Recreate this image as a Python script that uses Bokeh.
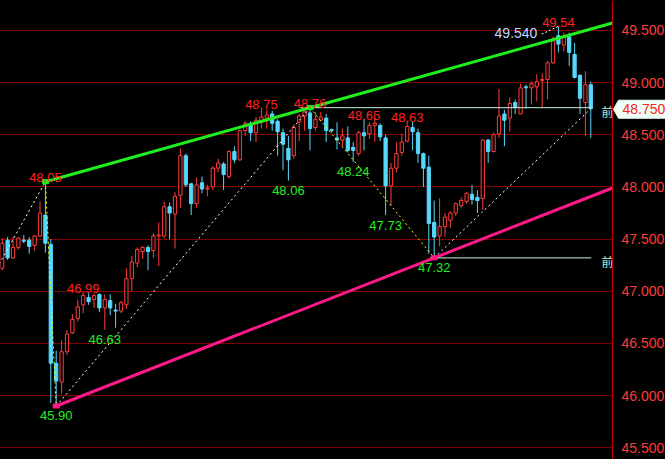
from bokeh.plotting import figure
from bokeh.models import Range1d, FixedTicker, NumeralTickFormatter, ColumnDataSource
from bokeh.core.properties import value
from bokeh.embed import file_html
from bokeh.resources import INLINE

# ---- candle data (OHLC) ----
opens = [47.22, 47.49, 47.32, 47.42, 47.49, 47.49, 47.44, 47.53, 47.73, 47.45,
         46.31, 46.13, 46.42, 46.60, 46.74, 46.87, 46.94, 46.92, 46.97, 46.84,
         46.91, 46.82, 46.81, 46.87, 47.12, 47.27, 47.38, 47.42, 47.39, 47.53,
         47.53, 47.81, 47.74, 47.92, 48.30, 48.03, 47.84, 48.04, 47.98, 48.00,
         48.18, 48.22, 48.10, 48.34, 48.26, 48.54, 48.61, 48.52, 48.62, 48.66,
         48.70, 48.63, 48.52, 48.37, 48.30, 48.62, 48.68, 48.71, 48.57, 48.64,
         48.66, 48.55, 48.47, 48.45, 48.47, 48.38, 48.32, 48.52, 48.51, 48.59,
         48.59, 48.47, 48.01, 48.18, 48.33, 48.44, 48.57, 48.52, 48.32, 48.19,
         47.66, 47.53, 47.62, 47.68, 47.75, 47.82, 47.86, 47.93, 47.90, 47.89,
         48.45, 48.34, 48.51, 48.70, 48.66, 48.81, 48.70, 48.96, 48.95, 48.96,
         49.02, 49.03, 49.19, 49.45, 49.36, 49.44, 49.27, 49.07, 48.81, 48.98]
highs = [47.51, 47.52, 47.52, 47.52, 47.54, 47.52, 47.54, 47.86, 48.05, 47.50,
         46.43, 46.53, 46.63, 46.78, 46.92, 46.99, 46.98, 46.98, 46.98, 46.97,
         46.97, 46.88, 46.91, 47.22, 47.34, 47.42, 47.43, 47.44, 47.56, 47.66,
         47.86, 47.85, 47.95, 48.37, 48.32, 48.04, 48.09, 48.10, 48.02, 48.20,
         48.27, 48.24, 48.35, 48.39, 48.55, 48.63, 48.63, 48.67, 48.75, 48.74,
         48.73, 48.65, 48.56, 48.49, 48.60, 48.70, 48.74, 48.76, 48.72, 48.72,
         48.70, 48.56, 48.62, 48.56, 48.58, 48.43, 48.54, 48.65, 48.62, 48.68,
         48.61, 48.50, 48.23, 48.43, 48.51, 48.63, 48.63, 48.56, 48.33, 48.30,
         47.87, 47.89, 47.75, 47.77, 47.85, 47.90, 47.95, 48.02, 47.97, 48.46,
         48.46, 48.52, 48.94, 48.74, 48.86, 48.84, 48.99, 48.98, 49.01, 49.08,
         49.09, 49.21, 49.44, 49.54, 49.48, 49.48, 49.38, 49.08, 49.11, 49.01]
lows = [47.20, 47.30, 47.31, 47.40, 47.46, 47.36, 47.39, 47.52, 47.37, 45.93,
        45.90, 46.02, 46.39, 46.59, 46.71, 46.79, 46.87, 46.84, 46.80, 46.63,
        46.77, 46.65, 46.79, 46.83, 47.00, 47.23, 47.31, 47.20, 47.32, 47.24,
        47.51, 47.50, 47.41, 47.80, 48.00, 47.73, 47.80, 47.94, 47.91, 47.97,
        48.14, 47.97, 48.08, 48.23, 48.25, 48.49, 48.44, 48.43, 48.56, 48.56,
        48.54, 48.30, 48.16, 48.06, 48.27, 48.44, 48.54, 48.35, 48.54, 48.63,
        48.43, 48.52, 48.36, 48.39, 48.33, 48.24, 48.30, 48.35, 48.46, 48.43,
        48.44, 47.73, 47.82, 48.14, 48.30, 48.43, 48.35, 48.23, 48.00, 47.36,
        47.32, 47.43, 47.52, 47.61, 47.72, 47.80, 47.84, 47.83, 47.75, 47.78,
        48.23, 48.33, 48.47, 48.39, 48.53, 48.70, 48.70, 48.75, 48.79, 48.82,
        48.76, 48.84, 49.18, 49.29, 49.30, 49.16, 49.04, 48.70, 48.49, 48.47]
closes = [47.46, 47.32, 47.42, 47.51, 47.48, 47.43, 47.53, 47.75, 47.46, 46.31,
          46.14, 46.42, 46.59, 46.73, 46.85, 46.96, 46.90, 46.96, 46.84, 46.92,
          46.84, 46.81, 46.89, 47.12, 47.28, 47.40, 47.42, 47.38, 47.53, 47.54,
          47.81, 47.75, 47.91, 48.30, 48.02, 47.84, 48.02, 47.98, 47.99, 48.18,
          48.23, 48.12, 48.34, 48.26, 48.54, 48.61, 48.52, 48.64, 48.67, 48.69,
          48.61, 48.53, 48.41, 48.26, 48.57, 48.68, 48.72, 48.56, 48.65, 48.67,
          48.54, 48.54, 48.45, 48.49, 48.35, 48.35, 48.52, 48.49, 48.59, 48.61,
          48.48, 48.01, 48.18, 48.32, 48.43, 48.58, 48.53, 48.32, 48.18, 47.65,
          47.52, 47.62, 47.71, 47.75, 47.84, 47.87, 47.94, 47.88, 47.87, 48.45,
          48.34, 48.50, 48.68, 48.64, 48.80, 48.76, 48.95, 48.95, 48.99, 49.01,
          49.03, 49.19, 49.40, 49.37, 49.44, 49.29, 49.05, 48.85, 48.98, 48.75]

# zigzag pivots (index, price); the first one lies just left of the view
pivot_idx = [-1, 8, 10, 57, 80, 109]
pivot_val = [47.22, 48.05, 45.90, 48.76, 47.32, 48.75]

high_label_idx = [8, 15, 48, 57, 67, 75, 103]
low_label_idx = [10, 19, 53, 65, 71, 80]

y_ticks = [45.5, 46.0, 46.5, 47.0, 47.5, 48.0, 48.5, 49.0, 49.5]

UP = "#ff3c3c"
DOWN = "#55d8fb"

n = len(opens)
idx = list(range(n))
up = [c >= o for o, c in zip(opens, closes)]
src = ColumnDataSource(dict(
    x=idx, o=opens, h=highs, l=lows, c=closes,
    top=[max(o, c) for o, c in zip(opens, closes)],
    bot=[min(o, c) for o, c in zip(opens, closes)],
    col=[UP if u else DOWN for u in up],
    fill=["#000000" if u else DOWN for u in up],
))

W, H = 665, 459
PX = 5.4                      # pixels per candle slot
X0 = -0.315
XF = X0 + W / PX              # right end of the (full-width) frame
AX_X = X0 + 612 / PX          # where the price axis sits
Y0, Y1 = 45.387, 49.7876
DY = (Y1 - Y0) / H

p = figure(width=W, height=H, output_backend="svg", toolbar_location=None,
           x_range=Range1d(X0, XF), y_range=Range1d(Y0, Y1),
           y_axis_location="right", min_border_left=0, min_border_top=0,
           min_border_bottom=0, min_border_right=0,
           background_fill_color="black", border_fill_color="black")
p.outline_line_color = None
p.xaxis.visible = False
p.xgrid.visible = False
p.ygrid.grid_line_color = "#c00000"
p.ygrid.grid_line_dash = "2 1"
p.ygrid.ticker = FixedTicker(ticks=y_ticks)
ax = p.yaxis[0]
ax.fixed_location = AX_X
ax.ticker = FixedTicker(ticks=y_ticks)
ax.formatter = NumeralTickFormatter(format="0.000")
ax.axis_line_color = "#c80000"
ax.major_tick_line_color = None
ax.minor_tick_line_color = None
ax.major_tick_out = 0
ax.major_tick_in = 0
ax.major_label_standoff = 9
ax.major_label_text_color = "#ff3c3c"
ax.major_label_text_font = "Liberation Sans"
ax.major_label_text_font_size = "14px"

# black panel right of the price axis (hides grid there)
p.quad(left=[AX_X], right=[XF], bottom=[Y0], top=[Y1], fill_color="black",
       line_color=None)

# candles
p.segment(x0="x", y0="h", x1="x", y1="l", source=src, line_color="col", line_width=1)
p.vbar(x="x", width=0.6, top="top", bottom="bot", source=src,
       fill_color="fill", line_color="col", line_width=1)

# zigzag dashed legs
for k in range(len(pivot_idx) - 1):
    a, b = pivot_val[k], pivot_val[k + 1]
    color = "#ffffff" if b > a else "#ffff00"
    p.line([pivot_idx[k], pivot_idx[k + 1]], [a, b], line_color=color,
           line_width=1, line_dash="2 3")

# channel lines
hi_a, hi_b = 8, 57
s_hi = (highs[hi_b] - highs[hi_a]) / (hi_b - hi_a)
p.line([hi_a, AX_X], [highs[hi_a], highs[hi_a] + s_hi * (AX_X - hi_a)],
       line_color="#1ef01e", line_width=3)
lo_a, lo_b = 10, 80
s_lo = (lows[lo_b] - lows[lo_a]) / (lo_b - lo_a)
p.line([lo_a, AX_X], [lows[lo_a], lows[lo_a] + s_lo * (AX_X - lo_a)],
       line_color="#ff1888", line_width=3)

# previous high / low horizontal lines
MINT = "#c4f4e0"
p.line([hi_b - 1.8, 109.1], [highs[hi_b], highs[hi_b]], line_color=MINT, line_width=1)
p.line([lo_b - 0.7, 109.1], [lows[lo_b], lows[lo_b]], line_color=MINT, line_width=1)
p.text(x=[111.0, 111.0], y=[highs[hi_b], lows[lo_b]], text=["前", "前"],
       text_color="#b4f0d8", text_font=value("Noto Sans CJK SC"),
       text_font_size="12px", text_align="left", text_baseline="top",
       y_offset=-5)

# pivot markers
p.rect(x=[hi_a, hi_b], y=[highs[hi_a], highs[hi_b]], width=6, height=4,
       width_units="screen", height_units="screen", color="#1ef01e")
p.rect(x=[lo_a, lo_b], y=[lows[lo_a], lows[lo_b]], width=6, height=4,
       width_units="screen", height_units="screen", color="#ff1888")

# high / low labels
p.text(x=high_label_idx, y=[highs[i] for i in high_label_idx],
       text=["%.2f" % highs[i] for i in high_label_idx],
       text_color="#ff2020", text_font=value("Liberation Sans"),
       text_font_size="13px", text_align="center", text_baseline="alphabetic",
       y_offset=-4)
p.text(x=low_label_idx, y=[lows[i] for i in low_label_idx],
       text=["%.2f" % lows[i] for i in low_label_idx],
       text_color="#22ee22", text_font=value("Liberation Sans"),
       text_font_size="13px", text_align="center", text_baseline="alphabetic",
       y_offset=10)

# max value tag
top_i = 103
p.line([top_i - 3.1, top_i], [highs[top_i] - 0.075, highs[top_i]],
       line_color="#ffffff", line_width=1, line_dash="2 2")
p.text(x=[top_i], y=[highs[top_i]], text=["%.3f" % highs[top_i]],
       text_color="#c0d8ff", text_font=value("Liberation Sans"),
       text_font_size="14px", text_align="right", text_baseline="alphabetic",
       x_offset=-21, y_offset=7)

# current price tag on the axis
last = closes[-1]
p.patch(x=[AX_X + 1 / PX, AX_X + 6 / PX, XF, XF, AX_X + 6 / PX],
        y=[last - 0.5 * DY, last + 8.5 * DY, last + 8.5 * DY, last - 9.5 * DY, last - 9.5 * DY],
        fill_color="#eefff6", line_color="#eefff6")
p.text(x=[AX_X + 10 / PX], y=[last], text=["%.3f" % last], text_color="#ff2020",
       text_font=value("Liberation Sans"), text_font_size="14px",
       text_baseline="middle", text_align="left")

html = file_html(p, INLINE, title="chart")
html = html.replace("<head>", "<head><style>html,body{margin:0;padding:0;background:#000;overflow:hidden;}</style>", 1)
open("out.html", "w").write(html)
